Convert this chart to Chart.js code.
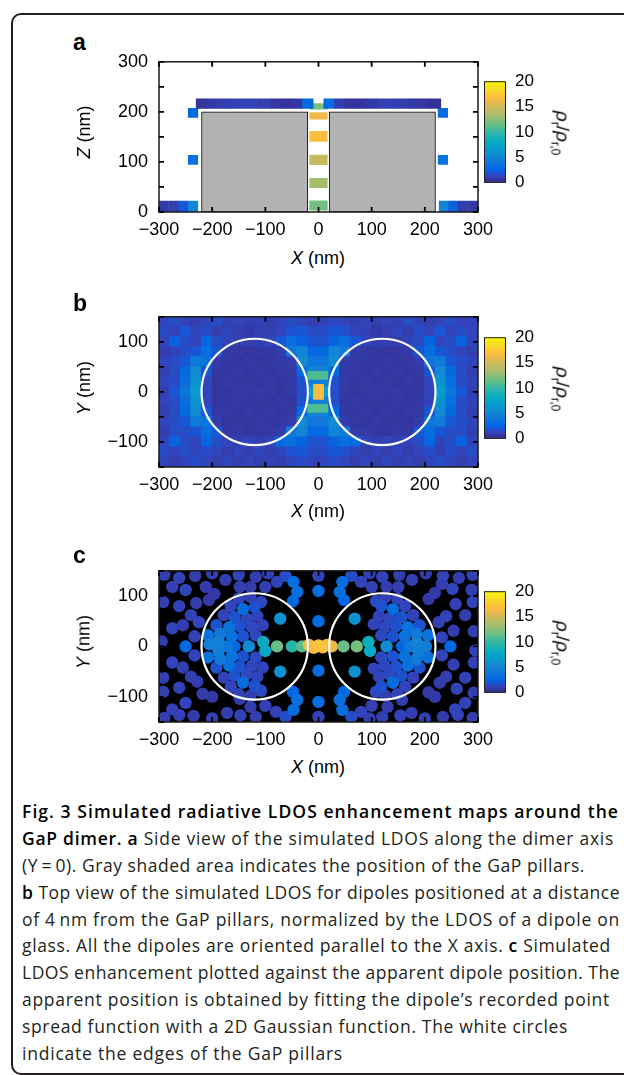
<!DOCTYPE html>
<html>
<head>
<meta charset="utf-8">
<title>Fig. 3 LDOS maps</title>
<script src="https://cdn.jsdelivr.net/npm/chart.js@4.4.1/dist/chart.umd.min.js"></script>
<style>
  html, body { margin: 0; padding: 0; }
  body { width: 624px; height: 1075px; position: relative; overflow: hidden; background: #fff;
         font-family: "Liberation Sans", Arial, sans-serif; color: #000; }
  .frame { position: absolute; left: 11px; top: 13px; width: 640px; height: 1062px;
           border: 2px solid #231f20; border-radius: 10px; box-sizing: border-box; }
  .box { position: absolute; }
  .lbl { position: absolute; font-size: 18px; white-space: nowrap; transform: translate(-50%, -50%); }
  .rotL { transform: translate(-50%, -50%) rotate(-90deg); }
  .rotR { transform: translate(-50%, -50%) rotate(90deg); font-size: 19px; }
  .rotR sub { font-size: 12px; }
  .letter { position: absolute; left: 73px; font-weight: bold; font-size: 23px; }
  .caption { position: absolute; left: 22px; top: 798px; font-family: "Open Sans", sans-serif;
             font-size: 17.5px; color: #231f20; }
  .caption div { height: 26.9px; line-height: 26.9px; white-space: nowrap; }
  .caption .line { display: inline-block; }
  .caption b { color: #000; font-weight: 600; }
</style>
</head>
<body>
<div class="frame"></div>

<div class="letter" style="top:29px">a</div>
<div class="box" style="left:70px;top:40px"><canvas id="chartA" width="440" height="202"></canvas></div>
<div class="box" style="left:480px;top:62px"><canvas id="barA" width="70" height="140"></canvas></div>
<div class="lbl rotL" style="left:84px;top:132px"><i>Z</i> (nm)</div>
<div class="lbl" style="left:318px;top:258px"><i>X</i> (nm)</div>
<div class="lbl rotR" style="left:561px;top:133px"><i>ρ</i><sub>r</sub>/<i>ρ</i><sub>r,0</sub></div>

<div class="letter" style="top:290px">b</div>
<div class="box" style="left:70px;top:295px"><canvas id="chartB" width="440" height="202"></canvas></div>
<div class="box" style="left:480px;top:318px"><canvas id="barB" width="70" height="140"></canvas></div>
<div class="lbl rotL" style="left:84px;top:388px"><i>Y</i> (nm)</div>
<div class="lbl" style="left:318px;top:511px"><i>X</i> (nm)</div>
<div class="lbl rotR" style="left:561px;top:389px"><i>ρ</i><sub>r</sub>/<i>ρ</i><sub>r,0</sub></div>

<div class="letter" style="top:542px">c</div>
<div class="box" style="left:70px;top:549px"><canvas id="chartC" width="440" height="203"></canvas></div>
<div class="box" style="left:480px;top:572px"><canvas id="barC" width="70" height="140"></canvas></div>
<div class="lbl rotL" style="left:84px;top:642px"><i>Y</i> (nm)</div>
<div class="lbl" style="left:318px;top:767px"><i>X</i> (nm)</div>
<div class="lbl rotR" style="left:561px;top:643px"><i>ρ</i><sub>r</sub>/<i>ρ</i><sub>r,0</sub></div>

<div class="caption">
  <div><span class="line"><b>Fig. 3 Simulated radiative LDOS enhancement maps around the</b></span></div>
  <div><span class="line"><b>GaP dimer.</b> <b>a</b> Side view of the simulated LDOS along the dimer axis</span></div>
  <div><span class="line">(Y&thinsp;=&thinsp;0). Gray shaded area indicates the position of the GaP pillars.</span></div>
  <div><span class="line"><b>b</b> Top view of the simulated LDOS for dipoles positioned at a distance</span></div>
  <div><span class="line">of 4&thinsp;nm from the GaP pillars, normalized by the LDOS of a dipole on</span></div>
  <div><span class="line">glass. All the dipoles are oriented parallel to the X axis. <b>c</b> Simulated</span></div>
  <div><span class="line">LDOS enhancement plotted against the apparent dipole position. The</span></div>
  <div><span class="line">apparent position is obtained by fitting the dipole’s recorded point</span></div>
  <div><span class="line">spread function with a 2D Gaussian function. The white circles</span></div>
  <div><span class="line">indicate the edges of the GaP pillars</span></div>
</div>

<script>
// ---------- data (nm, LDOS enhancement) ----------
const cbTicks = [0, 5, 10, 15, 20];
const cbRange = [0, 20];

// pillars: centres along X, half width / radius, height
const pillarX = [-120, 120];
const pillarR = 100;
const pillarZ = [0, 200];

// panel a: cells on top of the pillars
const aStripX = [-220, -200, -180, -160, -140, -120, -100, -80, -60, -40, -20,
                 20, 40, 60, 80, 100, 120, 140, 160, 180, 200, 220];
const aStripV = [0.5, 0.8, 1.0, 1.1, 1.2, 1.2, 1.0, 0.6, 0.5, 0.7, 3.0,
                 3.0, 1.0, 0.5, 0.5, 0.8, 1.1, 1.1, 1.0, 0.7, 0.5, 0.4];
const aStripZ = [207, 226];
// panel a: cells beside the pillars and on the glass
const aEdgeX = [-236, -236, 234, 234, -291, -272, -254, -236, 236, 254, 272, 291];
const aEdgeZ = [198, 104, 198, 104, 11, 11, 11, 11, 11, 11, 11, 11];
const aEdgeH = [18, 18, 18, 18, 22, 22, 22, 22, 22, 22, 22, 22];
const aEdgeV = [3.0, 3.6, 3.2, 3.6, 0.8, 1.0, 2.0, 5.0, 5.0, 2.5, 1.0, 0.8];
// panel a: cells in the gap (X = 0)
const aGapZ = [211, 192, 151, 104, 58, 13];
const aGapH = [11, 13, 20, 19, 19, 19];
const aGapV = [12.0, 16.2, 16.8, 14.6, 13.3, 11.8];

// panel b: top view grid, 20 nm cells
const bX = [-290, -270, -250, -230, -210, -190, -170, -150, -130, -110, -90, -70, -50, -30, -10,
            10, 30, 50, 70, 90, 110, 130, 150, 170, 190, 210, 230, 250, 270, 290];
const bY = [140, 120, 100, 80, 60, 40, 20, 0, -20, -40, -60, -80, -100, -120, -140];
const bV = [
  [1.3,1.6,1.2,1.0,1.3,1.6,1.1,1.3,1.0,1.2,1.0,1.3,1.6,1.3,1.0,1.2,1.5,1.3,1.0,1.3,1.0,1.3,1.1,1.6,1.3,1.0,1.3,1.6,1.2,1.3],
  [1.6,1.2,2.0,1.3,1.6,1.0,1.3,1.0,0.8,1.0,1.1,1.3,1.8,2.0,1.6,1.6,2.0,1.8,1.3,1.1,0.8,1.0,1.3,1.0,1.6,1.3,2.0,1.2,1.6,1.3],
  [1.3,2.6,1.6,1.3,2.8,1.6,1.3,1.0,1.0,1.0,1.3,2.0,3.4,2.6,1.8,1.8,2.6,3.4,2.0,1.3,1.0,1.0,1.0,1.3,1.6,2.8,1.3,1.6,2.6,1.3],
  [1.0,1.3,1.6,2.0,3.4,2.0,0.8,0.7,0.6,0.8,0.7,0.9,4.2,5.0,3.0,3.0,5.0,4.2,0.9,0.7,0.8,0.6,0.7,0.8,2.0,3.4,2.0,1.6,1.3,1.0],
  [1.3,1.6,2.0,4.2,3.8,0.9,0.7,0.6,0.8,0.6,0.7,0.8,0.9,5.5,4.0,4.0,5.5,0.9,0.8,0.7,0.6,0.8,0.6,0.7,0.9,3.8,4.2,2.0,1.6,1.3],
  [1.0,1.6,3.0,5.5,2.0,0.7,0.6,0.8,0.6,0.8,0.6,0.8,0.7,3.0,5.0,5.0,3.0,0.7,0.8,0.6,0.8,0.6,0.8,0.6,0.7,2.0,5.5,3.0,1.6,1.0],
  [1.3,1.6,3.4,6.0,1.3,0.6,0.8,0.6,0.7,0.6,0.8,0.6,0.8,1.8,4.5,4.5,1.8,0.8,0.6,0.8,0.6,0.7,0.6,0.8,0.6,1.3,6.0,3.4,1.6,1.3],
  [1.0,2.0,3.8,6.5,1.3,0.6,0.6,0.8,0.7,0.8,0.7,0.6,0.8,1.6,7.0,7.0,1.6,0.8,0.6,0.7,0.8,0.7,0.8,0.6,0.6,1.3,6.5,3.8,2.0,1.0],
  [1.3,1.6,3.4,6.0,1.3,0.7,0.6,0.8,0.6,0.7,0.6,0.8,0.6,1.8,4.5,4.5,1.8,0.6,0.8,0.6,0.7,0.6,0.8,0.6,0.7,1.3,6.0,3.4,1.6,1.3],
  [1.0,1.6,3.0,5.5,2.0,0.7,0.8,0.6,0.8,0.6,0.8,0.6,0.7,3.0,5.0,5.0,3.0,0.7,0.6,0.8,0.6,0.8,0.6,0.8,0.7,2.0,5.5,3.0,1.6,1.0],
  [1.3,1.6,2.0,4.2,3.8,0.9,0.6,0.7,0.6,0.8,0.6,0.7,0.9,5.5,4.0,4.0,5.5,0.9,0.7,0.6,0.8,0.6,0.7,0.6,0.9,3.8,4.2,2.0,1.6,1.3],
  [1.0,1.6,1.6,2.0,3.4,2.0,0.7,0.8,0.6,0.7,0.8,0.9,4.2,5.0,3.0,3.0,5.0,4.2,0.9,0.8,0.7,0.6,0.8,0.7,2.0,3.4,2.0,1.6,1.6,1.0],
  [1.3,2.6,1.6,1.3,2.8,1.6,1.3,1.0,1.3,1.0,1.3,3.0,3.4,2.6,1.8,1.8,2.6,3.4,3.0,1.3,1.0,1.3,1.0,1.3,1.6,2.8,1.3,1.6,2.6,1.3],
  [1.6,1.2,1.6,1.3,1.6,1.3,1.0,1.3,1.0,1.3,1.0,1.3,1.8,2.0,1.6,1.6,2.0,1.8,1.3,1.0,1.3,1.0,1.3,1.0,1.3,1.6,1.2,1.6,1.2,1.6],
  [1.3,1.0,1.3,1.6,1.3,1.0,1.3,1.0,1.3,1.0,1.3,1.0,1.3,1.6,1.3,1.3,1.6,1.3,1.0,1.3,1.0,1.3,1.0,1.3,1.0,1.3,1.6,1.3,1.0,1.3]
];
// panel b: hot spots in the gap
const bGapX = [0, -11, 8, -11, 8];
const bGapY = [0, 33, 33, -33, -33];
const bGapH = [30, 16, 16, 16, 16];
const bGapV = [16.5, 10.8, 10.8, 10.8, 10.8];

// panel c: apparent dipole positions
const cX = [
  -250, -233, -233, -205, -188, -188, -172, -158, -131, -104, -100, -78, -50, -31, -18, -9, 0, 8, 16, 25,
  47, 72, 94, 97, 128, 157, 172, 185, 188, 202, 232, 232, 248,
  -150, -128, -108, -165, -142, -120, -178, -158, -135, -115, -192, -168, -148, -125, -105, -208, -185, -163, -142, -118,
  -208, -185, -163, -142, -118, -192, -168, -148, -125, -105, -178, -158, -135, -115, -165, -142, -120, -150, -128, -108,
  148, 126, 108, 163, 140, 118, 178, 156, 134, 114, 190, 168, 146, 124, 104, 206, 184, 162, 140, 118,
  206, 184, 162, 140, 118, 190, 168, 146, 124, 104, 178, 156, 134, 114, 163, 140, 118, 148, 126, 108,
  0, 0, 0, -72, 68, -47, -40, -48, -62, 45, 40, 48, 62,
  0, 0, 0, -72, 68, -47, -40, -48, -62, 45, 40, 48, 62,
  -290, -262, -232, -200, -175, -150, -118, -95, -78,
  -275, -250, -212, -196, -206, -148, -128, -100,
  -292, -262, -230, -240, -275, -255, -225, -295,
  -275, -255, -292, -240, -262, -228, -292,
  -218, -200, -250, -275, -148, -128, -100,
  -290, -262, -235, -200, -172, -147, -118, -80,
  290, 264, 234, 202, 176, 152, 120, 96, 80,
  288, 252, 219, 207, 150, 128, 100, 232,
  290, 276, 258, 240, 254, 226, 292, 295,
  254, 276, 292, 240, 228, 260, 292,
  219, 207, 276, 257, 157, 130, 100,
  290, 262, 234, 200, 175, 154, 120, 96, 80
];
const cY = [
  0, 20, -18, 4, 10, -10, 0, 0, 0, 9, -9, 0, 0, 0, 3, -3, 2, -2, 3, 0,
  0, 0, 9, -9, 0, 0, 0, 8, -10, 0, 18, -18, 0,
  95, 98, 88, 80, 74, 78, 62, 58, 55, 60, 42, 38, 40, 38, 42, 22, 25, 20, 20, 22,
  -22, -25, -20, -20, -22, -42, -38, -40, -38, -42, -62, -58, -55, -60, -80, -72, -78, -95, -98, -88,
  95, 98, 90, 80, 74, 80, 62, 58, 56, 60, 42, 38, 40, 38, 44, 22, 25, 20, 20, 22,
  -22, -25, -20, -20, -22, -42, -38, -40, -38, -44, -62, -58, -56, -60, -80, -72, -80, -95, -98, -90,
  140, 110, 50, 55, 55, 128, 108, 90, 140, 128, 108, 92, 140,
  -140, -110, -48, -50, -50, -126, -106, -90, -140, -126, -106, -90, -140,
  142, 136, 140, 145, 132, 142, 138, 145, 128,
  118, 112, 118, 104, 92, 118, 118, 118,
  88, 80, 86, 62, 36, 42, 48, 10,
  -32, -42, -62, -60, -82, -70, -90,
  -94, -100, -112, -125, -104, -120, -118,
  -142, -136, -138, -143, -132, -137, -140, -130,
  142, 136, 140, 145, 132, 142, 138, 145, 128,
  112, 114, 106, 94, 118, 118, 118, 124,
  88, 62, 84, 60, 31, 48, 30, -8,
  -36, -62, -32, -60, -72, -84, -92,
  -100, -91, -112, -125, -106, -120, -118,
  -142, -136, -140, -143, -132, -137, -140, -143, -130
];
const cV = [
  2.8, 1.2, 1.2, 4.5, 4.8, 4.5, 4.0, 2.8, 5.5, 8.0, 7.8, 11.5, 9.5, 11.0, 16.0, 16.5, 17.0, 16.8, 16.5, 16.0,
  11.5, 11.8, 8.2, 7.8, 5.5, 2.8, 4.0, 4.8, 4.5, 4.5, 1.2, 1.2, 2.8,
  1.2, 1.0, 1.4, 1.3, 3.2, 1.8, 1.2, 1.8, 1.4, 1.2, 1.8, 3.6, 1.8, 1.4, 1.2, 3.6, 4.2, 3.6, 1.8, 1.4,
  3.6, 4.2, 3.6, 1.8, 1.4, 1.8, 3.6, 1.8, 1.4, 1.2, 1.2, 1.8, 1.4, 1.2, 1.3, 3.2, 1.8, 1.2, 1.0, 1.4,
  1.2, 1.0, 1.4, 1.3, 3.2, 1.8, 1.2, 1.8, 1.4, 1.2, 1.8, 3.6, 1.8, 1.4, 1.2, 3.6, 4.2, 3.6, 1.8, 1.4,
  3.6, 4.2, 3.6, 1.8, 1.4, 1.8, 3.6, 1.8, 1.4, 1.2, 1.2, 1.8, 1.4, 1.2, 1.3, 3.2, 1.8, 1.2, 1.0, 1.4,
  1.2, 3.2, 3.2, 6.0, 6.0, 3.2, 3.4, 2.8, 1.6, 3.2, 3.4, 2.8, 1.6,
  1.2, 3.2, 3.2, 6.0, 6.0, 3.2, 3.4, 2.8, 1.6, 3.2, 3.4, 2.8, 1.6,
  1.0, 1.2, 0.9, 1.1, 1.0, 1.2, 1.0, 1.1, 1.2,
  1.1, 1.3, 0.9, 0.8, 0.7, 1.0, 0.9, 1.1,
  1.0, 1.2, 0.9, 1.1, 1.2, 1.0, 1.3, 0.9,
  1.2, 1.0, 1.1, 1.0, 1.2, 0.9, 1.0,
  0.9, 0.7, 1.3, 1.1, 1.0, 0.9, 1.1,
  1.0, 1.2, 0.9, 1.1, 1.0, 1.2, 1.0, 1.1,
  1.1, 1.0, 1.2, 0.9, 1.1, 1.0, 1.2, 1.0, 1.2,
  1.0, 1.3, 0.8, 0.7, 1.0, 0.9, 1.1, 1.0,
  1.2, 1.0, 1.1, 1.2, 0.9, 1.1, 1.0, 1.2,
  1.0, 1.2, 1.1, 1.0, 0.9, 1.2, 1.0,
  0.8, 0.7, 1.2, 1.3, 1.0, 0.9, 1.1,
  1.0, 1.2, 0.9, 1.1, 1.0, 1.2, 1.0, 1.1, 1.2
];

// ---------- styling ----------
const FONT = '"Liberation Sans", Arial, sans-serif';
Chart.defaults.font.family = FONT;
const PX_PER_NM = 319 / 600;   // plot area is 319 px wide for 600 nm

// parula colormap stops [t, r, g, b]
const PARULA = [
  [0.000, 53, 42, 135], [0.063, 50, 67, 186], [0.111, 15, 92, 221], [0.143, 2, 104, 225],
  [0.206, 16, 121, 218], [0.270, 19, 137, 211], [0.333, 7, 156, 207], [0.397, 7, 169, 194],
  [0.460, 29, 179, 175], [0.524, 66, 187, 152], [0.587, 113, 191, 128], [0.651, 156, 191, 111],
  [0.714, 192, 188, 96], [0.778, 225, 185, 82], [0.825, 248, 187, 68], [0.873, 254, 200, 50],
  [0.937, 245, 222, 33], [1.000, 249, 251, 14]
];

function parula(v) {
  const t = Math.max(0, Math.min(1, (v - cbRange[0]) / (cbRange[1] - cbRange[0])));
  for (let i = 1; i < PARULA.length; i++) {
    if (t <= PARULA[i][0]) {
      const a = PARULA[i - 1], b = PARULA[i];
      const f = (t - a[0]) / (b[0] - a[0]);
      return 'rgb(' + [1, 2, 3].map(k => Math.round(a[k] + f * (b[k] - a[k]))).join(',') + ')';
    }
  }
  return 'rgb(249,251,14)';
}

function fmt(v) {
  return v < 0 ? '\u2212' + Math.abs(v) : String(v);
}

// frame round the plot area plus inward tick marks on all four sides
const frameTicks = {
  id: 'frameTicks',
  afterDatasetsDraw(chart) {
    const { ctx, chartArea: a, scales: { x, y } } = chart;
    ctx.save();
    ctx.strokeStyle = '#1a1a1a';
    ctx.lineWidth = 1.5;
    ctx.strokeRect(a.left, a.top, a.width, a.height);
    ctx.lineWidth = 1.8;
    ctx.strokeStyle = '#000';
    ctx.beginPath();
    x.ticks.forEach(t => {
      const p = x.getPixelForValue(t.value);
      ctx.moveTo(p, a.bottom); ctx.lineTo(p, a.bottom - 5);
      ctx.moveTo(p, a.top); ctx.lineTo(p, a.top + 5);
    });
    y.ticks.forEach(t => {
      const p = y.getPixelForValue(t.value);
      ctx.moveTo(a.left, p); ctx.lineTo(a.left + 5, p);
      ctx.moveTo(a.right, p); ctx.lineTo(a.right - 5, p);
    });
    ctx.stroke();
    ctx.restore();
  }
};

const blackBg = {
  id: 'blackBg',
  beforeDatasetsDraw(chart) {
    const { ctx, chartArea: a } = chart;
    ctx.save();
    ctx.fillStyle = '#000';
    ctx.fillRect(a.left, a.top, a.width, a.height);
    ctx.restore();
  }
};

function mapOptions(yMin, yMax) {
  return {
    responsive: false,
    animation: false,
    events: [],
    layout: { padding: { left: 0, right: 32, top: 13, bottom: 0 } },
    plugins: { legend: { display: false }, tooltip: { enabled: false } },
    scales: {
      x: {
        type: 'linear', min: -300, max: 300, offset: false,
        grid: { display: false, drawTicks: false }, border: { display: false },
        ticks: { stepSize: 100, padding: 7, color: '#000', font: { size: 18 }, maxRotation: 0, autoSkip: false, callback: fmt },
        afterFit: s => { s.height = 30; }
      },
      y: {
        type: 'linear', min: yMin, max: yMax,
        grid: { display: false, drawTicks: false }, border: { display: false },
        ticks: { stepSize: 50, padding: 11, color: '#000', font: { size: 18 }, autoSkip: false,
                 callback: v => (v % 100 === 0 ? fmt(v) : '') },
        afterFit: s => { s.width = 89; }
      }
    }
  };
}

function cellSet(xs, ys, hs, vs, widthNm, order) {
  return {
    type: 'bar',
    data: xs.map((x, i) => ({ x: x, y: [ys[i] - hs[i] / 2, ys[i] + hs[i] / 2] })),
    backgroundColor: vs.map(parula),
    barThickness: widthNm * PX_PER_NM,
    grouped: false,
    borderWidth: 0,
    order: order
  };
}

function ringRadius(chart) {
  const x = chart.scales.x;
  return Math.abs(x.getPixelForValue(pillarR) - x.getPixelForValue(0));
}

function ringSet() {
  return {
    type: 'scatter',
    data: pillarX.map(x => ({ x: x, y: 0 })),
    pointRadius: ctx => ringRadius(ctx.chart),
    pointBackgroundColor: 'rgba(0,0,0,0)',
    pointBorderColor: '#fff',
    pointBorderWidth: 2.2,
    order: 0
  };
}

// ---------- panel a ----------
new Chart(document.getElementById('chartA'), {
  type: 'bar',
  data: {
    datasets: [
      {
        type: 'bar',
        data: pillarX.map(x => ({ x: x, y: pillarZ })),
        backgroundColor: '#b3b3b3',
        borderColor: '#000',
        borderWidth: 1,
        borderSkipped: false,
        barThickness: 2 * pillarR * PX_PER_NM,
        grouped: false,
        order: 0
      },
      cellSet(aStripX, aStripX.map(() => (aStripZ[0] + aStripZ[1]) / 2), aStripX.map(() => aStripZ[1] - aStripZ[0]), aStripV, 20, 1),
      cellSet(aEdgeX, aEdgeZ, aEdgeH, aEdgeV, 18, 1),
      cellSet(aGapZ.map(() => 0), aGapZ, aGapH, aGapV, 33, 1)
    ]
  },
  options: mapOptions(0, 300),
  plugins: [frameTicks]
});

// ---------- panel b ----------
const bCellX = [], bCellY = [], bCellH = [], bCellV = [];
bY.forEach((y, r) => {
  bX.forEach((x, c) => {
    bCellX.push(x); bCellY.push(y); bCellH.push(20.6); bCellV.push(bV[r][c]);
  });
});

new Chart(document.getElementById('chartB'), {
  type: 'bar',
  data: {
    datasets: [
      ringSet(),
      cellSet(bGapX, bGapY, bGapH, bGapV, 19, 1),
      cellSet(bCellX, bCellY, bCellH, bCellV, 20.8, 2)
    ]
  },
  options: mapOptions(-150, 150),
  plugins: [frameTicks]
});

// ---------- panel c ----------
const cOrder = cV.map((v, i) => i).sort((p, q) => cV[p] - cV[q]);

new Chart(document.getElementById('chartC'), {
  type: 'scatter',
  data: {
    datasets: [
      ringSet(),
      {
        data: cOrder.map(i => ({ x: cX[i], y: cY[i] })),
        pointBackgroundColor: cOrder.map(i => parula(cV[i])),
        pointRadius: 6.2,
        pointBorderWidth: 0,
        order: 1
      }
    ]
  },
  options: mapOptions(-150, 150),
  plugins: [blackBg, frameTicks]
});

// ---------- colour bars ----------
const cbFrame = {
  id: 'cbFrame',
  afterDatasetsDraw(chart) {
    const { ctx, chartArea: a } = chart;
    ctx.save();
    ctx.strokeStyle = '#222';
    ctx.lineWidth = 1;
    ctx.strokeRect(a.left + 0.5, a.top + 0.5, a.width - 1, a.height - 1);
    ctx.restore();
  }
};

function colorbar(id) {
  new Chart(document.getElementById(id), {
    type: 'bar',
    data: {
      labels: [''],
      datasets: [{
        data: [cbRange],
        backgroundColor: ctx => {
          const a = ctx.chart.chartArea;
          if (!a) return '#888';
          const g = ctx.chart.ctx.createLinearGradient(0, a.bottom, 0, a.top);
          PARULA.forEach(s => g.addColorStop(s[0], 'rgb(' + s[1] + ',' + s[2] + ',' + s[3] + ')'));
          return g;
        },
        barPercentage: 1,
        categoryPercentage: 1,
        borderWidth: 0
      }]
    },
    options: {
      responsive: false,
      animation: false,
      events: [],
      layout: { padding: { left: 4, right: 0, top: 10, bottom: 10 } },
      plugins: { legend: { display: false }, tooltip: { enabled: false } },
      scales: {
        x: { display: false },
        y: {
          position: 'right', min: cbRange[0], max: cbRange[1],
          grid: { display: false, drawTicks: false }, border: { display: false },
          afterBuildTicks: s => { s.ticks = cbTicks.map(v => ({ value: v })); },
          ticks: { padding: 9, color: '#000', font: { size: 17 } },
          afterFit: s => { s.width = 44; }
        }
      }
    },
    plugins: [cbFrame]
  });
}
colorbar('barA');
colorbar('barB');
colorbar('barC');

// ---------- caption: fit each line to the width it has in the figure ----------
const capWidths = [597, 592, 563, 598, 598, 589, 598, 588, 546, 321];
document.querySelectorAll('.caption .line').forEach((el, i) => {
  const w = el.getBoundingClientRect().width;
  const n = el.textContent.length;
  el.style.letterSpacing = ((capWidths[i] - w) / n).toFixed(3) + 'px';
});
</script>
</body>
</html>
